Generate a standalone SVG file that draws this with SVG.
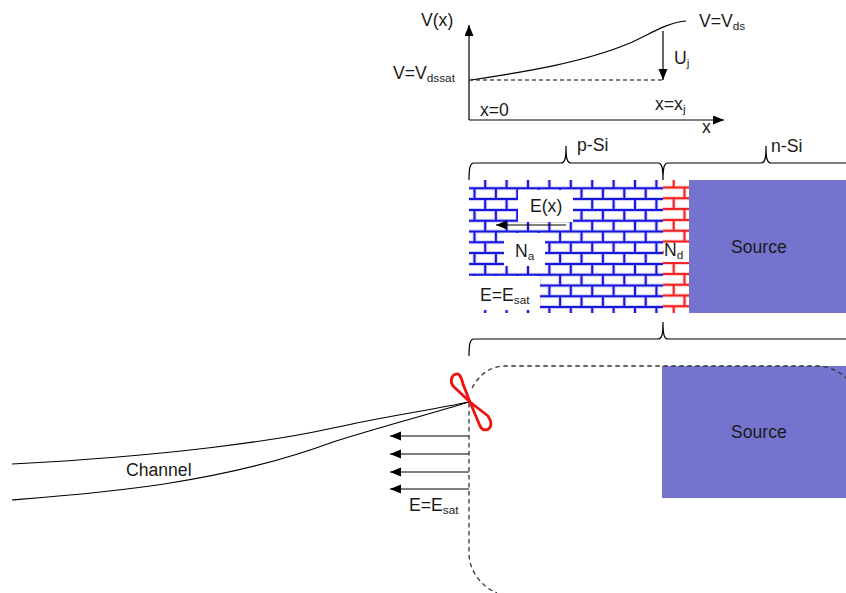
<svg xmlns="http://www.w3.org/2000/svg" width="846" height="593" viewBox="0 0 846 593">
<style>
text{font-family:"Liberation Sans",Arial,sans-serif;font-size:17.6px;fill:#1a1a1a}
.sub{font-size:11.8px;fill:#222}
.l{fill:none;stroke:#000;stroke-width:1.2}
.d{fill:none;stroke:#333;stroke-width:1.3;stroke-dasharray:4.5 3.5}
.src{fill:#7474cf}
.w{fill:#fff}
.bh{fill:none;stroke:#cfcff5;stroke-width:4}
.bc{fill:none;stroke:#1818e0;stroke-width:2}
.rh{fill:none;stroke:#fbd0d0;stroke-width:4}
.rc{fill:none;stroke:#f42020;stroke-width:2}
.dash{stroke-dasharray:10.8 10.8}
</style>
<defs>
<marker id="a" markerWidth="12" markerHeight="10" refX="11" refY="4.5" orient="auto" markerUnits="userSpaceOnUse"><path d="M0 0L11 4.5L0 9Z" fill="#000"/></marker>
<filter id="soft" x="0" y="0" width="1" height="1"><feGaussianBlur stdDeviation="0.4"/></filter>
<clipPath id="cb"><rect x="469" y="180" width="194" height="133"/></clipPath>
<clipPath id="cr"><rect x="663" y="180" width="26" height="133"/></clipPath>
<path id="bhz" d="M469 188.3H663M469 199.1H663M469 209.9H663M469 220.7H663M469 231.5H663M469 242.3H663M469 253.1H663M469 263.9H663M469 274.7H663M469 285.5H663M469 296.3H663M469 307.1H663"/>
<path id="bva" d="M474.5 188.3V320M495.9 188.3V320M517.3 188.3V320M538.7 188.3V320M560.1 188.3V320M581.5 188.3V320M602.9 188.3V320M624.3 188.3V320M645.7 188.3V320"/>
<path id="bvb" d="M485.2 177.5V320M506.6 177.5V320M528 177.5V320M549.4 177.5V320M570.8 177.5V320M592.2 177.5V320M613.6 177.5V320M635 177.5V320M656.4 177.5V320"/>
<path id="rhz" d="M663 187.5H689M663 198.3H689M663 209.1H689M663 219.9H689M663 230.7H689M663 241.5H689M663 252.3H689M663 263.1H689M663 273.9H689M663 284.7H689M663 295.5H689M663 306.3H689"/>
<path id="rva" d="M684.5 187.5V320"/>
<path id="rvb" d="M673.7 176.7V320"/>
</defs>
<g id="silicon">
<rect x="469" y="180" width="220" height="133" fill="#fff"/>
<g clip-path="url(#cb)"><g filter="url(#soft)">
<use href="#bhz" class="bh"/><use href="#bva" class="bh dash"/><use href="#bvb" class="bh dash"/>
<use href="#bhz" class="bc"/><use href="#bva" class="bc dash"/><use href="#bvb" class="bc dash"/>
</g></g>
<g clip-path="url(#cr)"><g filter="url(#soft)">
<use href="#rhz" class="rh"/><use href="#rva" class="rh dash"/><use href="#rvb" class="rh dash"/>
<use href="#rhz" class="rc"/><use href="#rva" class="rc dash"/><use href="#rvb" class="rc dash"/>
</g></g>
<rect class="w" x="518" y="190" width="55" height="32"/>
<rect class="w" x="504" y="233" width="41" height="33"/>
<rect class="w" x="469" y="276" width="71" height="34"/>
<rect class="w" x="664" y="243" width="25" height="19"/>
<text x="530" y="212">E(x)</text>
<text x="515" y="257">N<tspan class="sub" dy="3">a</tspan></text>
<text x="480" y="301">E=E<tspan class="sub" dy="3">sat</tspan></text>
<text x="664" y="256">N<tspan class="sub" dy="3">d</tspan></text>
</g>
<g id="source-top"><rect class="src" x="689" y="180" width="157" height="133"/><text x="731" y="253">Source</text></g>
<g id="source-bottom"><rect class="src" x="662" y="366" width="184" height="132"/><text x="731" y="438">Source</text></g>
<g id="connectors">
<path class="l" marker-end="url(#a)" d="M469 120V25"/>
<path class="l" marker-end="url(#a)" d="M469 120H724"/>
<path class="l" d="M471 80C525 72 585 62 630 43C650 34 668 22 686 21"/>
<path class="l" stroke-dasharray="4 3" d="M469 80H663"/>
<path class="l" marker-end="url(#a)" d="M663 31V80"/>
<path class="l" marker-end="url(#a)" d="M566 225H496"/>
<path class="l" d="M469 180C469 168 470 163 474 163H561C565 163 566 158 566 146C566 158 567 163 571 163H658C662 163 663 168 663 180C663 168 664 163 668 163H761C765 163 766 158 766 146C766 158 767 163 771 163H846"/>
<path class="l" d="M469 356C469 344 470 339 474 339H658C662 339 663 334 663 322C663 334 664 339 668 339H846"/>
<path class="l" d="M12 464C170 456 280 440 333 428C380 417.4 430 410 469 402"/>
<path class="l" d="M12 500C100 493 220 484 333 442C380 427 430 414 469 402"/>
<path class="l" marker-end="url(#a)" d="M469 436H390"/>
<path class="l" marker-end="url(#a)" d="M469 454H390"/>
<path class="l" marker-end="url(#a)" d="M469 472H390"/>
<path class="l" marker-end="url(#a)" d="M469 489H390"/>
</g>
<g id="depletion"><path class="d" d="M472 388C479 375 490 366 505 366H822C832 368 840 372 846 378"/><path class="d" d="M469 403V555C470 572 482 587 497 593"/></g>
<g id="pinch"><path fill="none" stroke="#f01010" stroke-width="2.8" stroke-linejoin="round" d="M470 402L463 384C461 376 459 373 456 374C451 375 450 382 453 386L470 402L480 426C483 432 490 431 491 424C491 421 490 419 488 416Z"/></g>
<g id="labels">
<text x="421" y="26">V(x)</text>
<text x="699" y="27">V=V<tspan class="sub" dy="3">ds</tspan></text>
<text x="393" y="79">V=V<tspan class="sub" dy="3">dssat</tspan></text>
<text x="674" y="64">U<tspan class="sub" dy="3">j</tspan></text>
<text x="480" y="116">x=0</text>
<text x="655" y="110">x=x<tspan class="sub" dy="3">j</tspan></text>
<text x="702" y="133">x</text>
<text x="577" y="151">p-Si</text>
<text x="771" y="152">n-Si</text>
<text x="126" y="476">Channel</text>
<text x="409" y="511">E=E<tspan class="sub" dy="3">sat</tspan></text>
</g>
</svg>
